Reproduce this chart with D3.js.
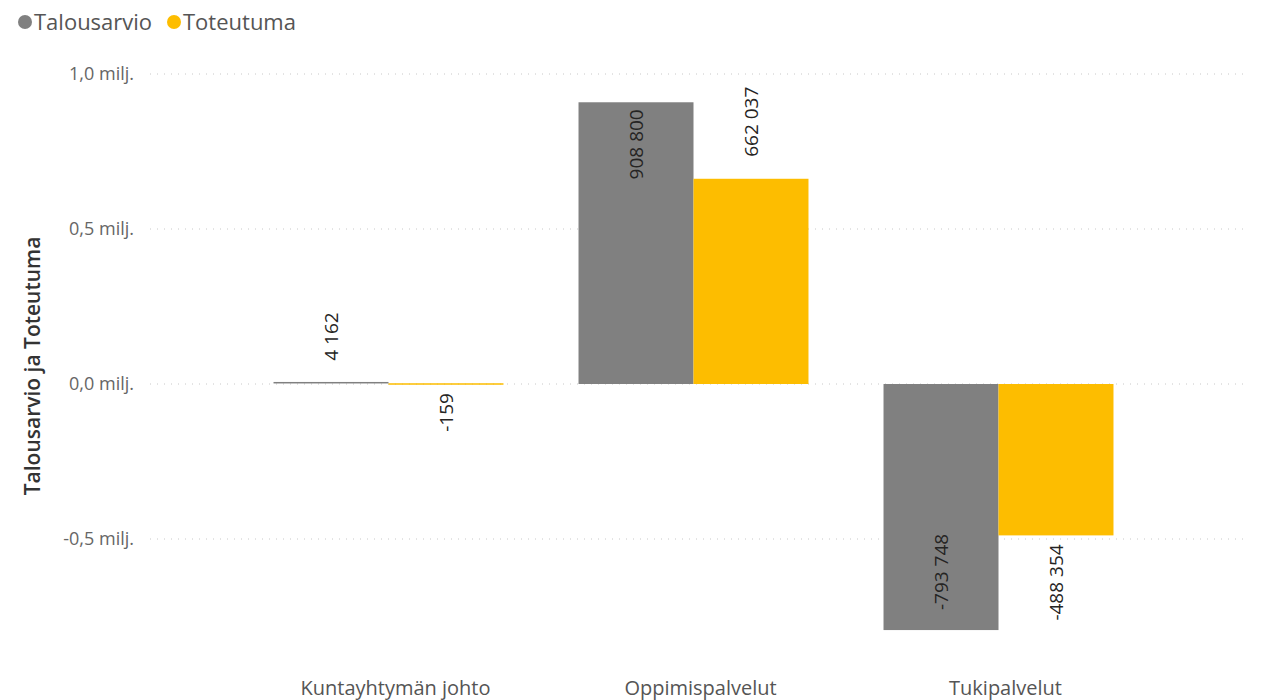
<!DOCTYPE html>
<html>
<head>
<meta charset="utf-8">
<script src="https://cdn.jsdelivr.net/npm/d3@7"></script>
<style>
  body { margin: 0; background: #fff; }
  #chart { width: 1261px; height: 700px; }
</style>
</head>
<body>
<div id="chart"></div>
<script>
const categories = ["Kuntayhtymän johto", "Oppimispalvelut", "Tukipalvelut"];
const seriesNames = ["Talousarvio", "Toteutuma"];
const talousarvio = [4162, 908800, -793748];
const toteutuma = [-159, 662037, -488354];
const yTicks = [-500000, 0, 500000, 1000000];
const colors = ["#808080", "#FDBD00"];

const width = 1261;
const height = 700;
const font = "'Segoe UI', 'Open Sans', sans-serif";

const svg = d3.select("#chart")
  .append("svg")
  .attr("width", width)
  .attr("height", height);

const x = d3.scaleBand()
  .domain(categories)
  .range([236, 1151])
  .paddingInner(0.246)
  .paddingOuter(0.123);

const xs = d3.scaleBand()
  .domain(seriesNames)
  .range([0, x.bandwidth()]);

const y = d3.scaleLinear()
  .domain([-1000000, 1000000])
  .range([694, 74]);

// gridlines
svg.append("g")
  .selectAll("line")
  .data(yTicks)
  .join("line")
  .attr("x1", 150)
  .attr("x2", 1246)
  .attr("y1", d => y(d))
  .attr("y2", d => y(d))
  .attr("stroke", "#c8c8c8")
  .attr("stroke-width", 1)
  .attr("stroke-dasharray", "1,6");

// y axis tick labels
const fmt = d => d3.format(".1f")(d / 1e6).replace(".", ",").replace("−", "-") + " milj.";
svg.append("g")
  .selectAll("text")
  .data(yTicks)
  .join("text")
  .attr("x", 134)
  .attr("y", d => y(d))
  .attr("dy", "0.35em")
  .attr("text-anchor", "end")
  .attr("font-family", font)
  .attr("font-size", "18px")
  .attr("fill", "#666")
  .text(fmt);

// y axis title
svg.append("text")
  .attr("transform", "translate(40,366) rotate(-90)")
  .attr("text-anchor", "middle")
  .attr("font-family", font)
  .attr("font-size", "21px")
  .attr("font-weight", "600")
  .attr("fill", "#333")
  .text("Talousarvio ja Toteutuma");

// category labels
svg.append("g")
  .selectAll("text")
  .data(categories)
  .join("text")
  .attr("x", d => x(d) + x.bandwidth() / 2 + 7)
  .attr("y", 695)
  .attr("text-anchor", "middle")
  .attr("font-family", font)
  .attr("font-size", "20px")
  .attr("fill", "#555")
  .text(d => d);

const rows = [];
categories.forEach((c, i) => {
  rows.push({ cat: c, s: seriesNames[0], v: talousarvio[i], color: colors[0] });
  rows.push({ cat: c, s: seriesNames[1], v: toteutuma[i], color: colors[1] });
});

// bars
svg.append("g")
  .selectAll("rect")
  .data(rows)
  .join("rect")
  .attr("x", d => x(d.cat) + xs(d.s))
  .attr("width", xs.bandwidth())
  .attr("y", d => Math.min(y(d.v), y(0)) - (Math.abs(y(d.v) - y(0)) < 1.5 ? 0.75 : 0))
  .attr("height", d => Math.max(Math.abs(y(d.v) - y(0)), 1.5))
  .attr("fill", d => d.color);

// data labels
const lbl = d3.format(",d");
svg.append("g")
  .selectAll("text")
  .data(rows)
  .join("text")
  .each(function (d) {
    const cx = x(d.cat) + xs(d.s) + xs.bandwidth() / 2;
    const h = Math.abs(y(d.v) - y(0));
    const inside = h > 120 && (d.s === seriesNames[0]);
    let py, anchor;
    if (d.v >= 0) {
      if (inside) { py = y(d.v) + 7; anchor = "end"; }
      else { py = y(d.v) - 22; anchor = "start"; }
    } else {
      if (inside) { py = y(d.v) - 20; anchor = "start"; }
      else { py = y(d.v) + 9; anchor = "end"; }
    }
    d3.select(this)
      .attr("transform", "translate(" + cx + "," + py + ") rotate(-90)")
      .attr("text-anchor", anchor)
      .attr("dy", "0.35em");
  })
  .attr("font-family", font)
  .attr("font-size", "19px")
  .attr("fill", "#252423")
  .text(d => lbl(d.v).replace(/,/g, " ").replace("−", "-"));

// legend
const legend = svg.append("g");
const legendX = [25, 174];
seriesNames.forEach((s, i) => {
  legend.append("circle")
    .attr("cx", legendX[i])
    .attr("cy", 22)
    .attr("r", 7)
    .attr("fill", colors[i]);
  legend.append("text")
    .attr("x", legendX[i] + 9)
    .attr("y", 22)
    .attr("dy", "0.35em")
    .attr("font-family", font)
    .attr("font-size", "22px")
    .attr("fill", "#555")
    .text(s);
});
</script>
</body>
</html>
